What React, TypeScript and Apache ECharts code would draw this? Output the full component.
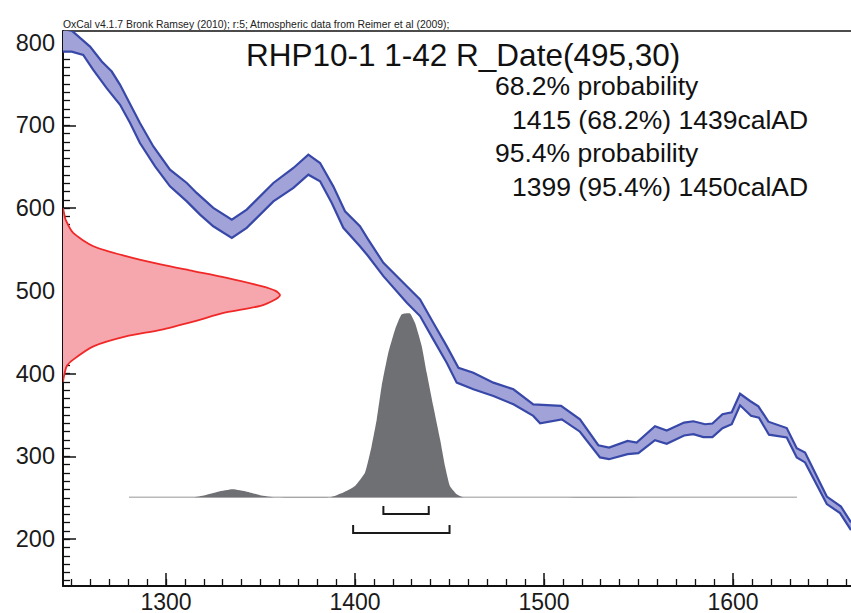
import React, { useEffect, useRef } from 'react';
import * as echarts from 'echarts';

// Calibration curve band (calendar year AD, radiocarbon BP)
const curveUpper: [number, number][] = [
  [1245.5, 816.5], [1250.3, 814.1], [1259.8, 795.2], [1266.0, 777.1], [1271.3, 765.0], [1275.7, 749.0],
  [1286.2, 702.8], [1293.3, 674.5], [1302.1, 646.4], [1311.0, 630.4], [1316.2, 618.4], [1325.0, 600.3],
  [1334.8, 586.1], [1342.7, 598.2], [1356.8, 630.4], [1367.4, 648.5], [1375.3, 664.6], [1381.5, 654.5],
  [1388.5, 626.3], [1394.7, 596.2], [1402.6, 578.1], [1407.0, 562.0], [1415.0, 533.9], [1427.4, 505.7],
  [1434.4, 489.6], [1441.4, 461.5], [1448.5, 433.3], [1454.7, 407.2], [1462.6, 401.2], [1473.2, 389.2],
  [1483.8, 381.1], [1494.3, 363.0], [1509.0, 361.2], [1519.0, 344.9], [1528.7, 313.6], [1534.4, 310.8],
  [1544.2, 318.8], [1549.0, 316.9], [1558.7, 336.5], [1564.9, 331.3], [1574.1, 340.9], [1579.0, 342.5],
  [1585.2, 338.9], [1589.1, 339.8], [1594.4, 351.0], [1599.3, 353.4], [1603.7, 375.7], [1609.0, 367.0],
  [1613.4, 360.6], [1618.7, 342.0], [1628.4, 334.3], [1633.7, 310.0], [1638.1, 304.8], [1649.6, 251.5],
  [1657.1, 239.4], [1662.4, 220.4],
];
const curveLower: [number, number][] = [
  [1245.5, 789.1], [1250.1, 789.1], [1256.2, 785.2], [1261.5, 767.1], [1268.6, 745.0], [1275.7, 724.9],
  [1281.0, 702.8], [1286.2, 678.7], [1294.2, 650.5], [1302.1, 626.3], [1311.0, 608.2], [1318.0, 592.2],
  [1325.0, 578.1], [1334.8, 564.1], [1342.7, 576.2], [1356.8, 608.2], [1367.4, 624.4], [1375.3, 640.4],
  [1381.5, 632.4], [1387.7, 606.3], [1393.8, 576.2], [1402.6, 554.0], [1407.0, 541.9], [1415.0, 517.8],
  [1427.4, 485.7], [1434.4, 469.6], [1441.4, 441.5], [1448.5, 413.3], [1453.8, 389.2], [1462.6, 381.1],
  [1473.2, 373.0], [1483.8, 363.0], [1494.3, 349.0], [1497.9, 340.1], [1509.4, 344.9], [1519.0, 329.9],
  [1529.6, 298.8], [1534.4, 296.7], [1544.2, 302.8], [1549.9, 304.0], [1558.7, 319.6], [1564.9, 315.4],
  [1574.1, 325.3], [1579.0, 326.9], [1584.3, 323.3], [1589.1, 323.3], [1594.4, 334.1], [1599.3, 338.9],
  [1603.7, 361.8], [1609.5, 349.2], [1613.7, 346.8], [1619.0, 326.3], [1628.4, 322.9], [1633.7, 298.8],
  [1638.1, 292.8], [1649.6, 242.5], [1656.6, 231.6], [1662.4, 211.1],
];

// Radiocarbon measurement 495±30 BP: BP value and relative density
const measurementBP = [600, 595, 586, 570, 554, 542, 532, 524, 516, 506, 500, 495, 490, 482, 474, 463, 453, 445, 433, 417, 409, 395, 390];
const measurementDensity = [0, 0.004, 0.012, 0.047, 0.14, 0.29, 0.45, 0.6, 0.75, 0.91, 0.98, 1, 0.98, 0.91, 0.75, 0.6, 0.45, 0.29, 0.14, 0.047, 0.017, 0.003, 0];

// Calibrated probability distribution (calendar year AD, relative probability)
const calibratedYears = [1280.4, 1314.3, 1320.6, 1327.5, 1335.3, 1342.9, 1349.7, 1357.7, 1386.8, 1393.8, 1400.0, 1405.3, 1408.8, 1411.5, 1414.1, 1417.6, 1421.2, 1424.7, 1429.1, 1431.7, 1435.3, 1437.9, 1441.4, 1445.0, 1447.6, 1450.2, 1453.8, 1457.3, 1633.8];
const calibratedProb = [0, 0, 0.011, 0.03, 0.043, 0.03, 0.011, 0, 0, 0.026, 0.061, 0.134, 0.279, 0.424, 0.605, 0.786, 0.913, 0.995, 1, 0.949, 0.822, 0.678, 0.496, 0.315, 0.17, 0.061, 0.016, 0, 0];

// Ranges
const ranges68: [number, number][] = [[1415, 1439]];
const ranges95: [number, number][] = [[1399, 1450]];

// Axis ticks
const xMajorTicks = [1300, 1400, 1500, 1600];
const yMajorTicks = [200, 300, 400, 500, 600, 700, 800];

// Texts
const headerText = 'OxCal v4.1.7 Bronk Ramsey (2010); r:5; Atmospheric data from Reimer et al (2009);';
const titleText = 'RHP10-1 1-42 R_Date(495,30)';
const probHeadings = ['68.2% probability', '95.4% probability'];
const probRanges = ['1415 (68.2%) 1439calAD', '1399 (95.4%) 1450calAD'];

// Layout constants
const X_MIN = 1245.5;
const X_MAX = 1662.4;
const Y_MIN = 143.5;
const Y_MAX = 814;
const RED_SPAN = 114.8; // calendar-year width of the measurement peak
const GRAY_BASE = 250.8; // BP level of the distribution baseline
const GRAY_SPAN = 222; // BP height of the distribution peak
const LEVEL_68 = 230.4;
const LEVEL_95 = 207.5;
const FONT = '"Liberation Sans", Arial, Helvetica, sans-serif';

function minorTicks(a: number, b: number, step: number) {
  const out: number[] = [];
  for (let v = a; v <= b + 1e-9; v += step) out.push(v);
  return out;
}

export default function App() {
  const ref = useRef<HTMLDivElement>(null);
  useEffect(() => {
    if (!ref.current) return;
    const chart = echarts.init(ref.current, undefined, { renderer: 'svg' });

    const baseAxis = {
      type: 'value' as const,
      min: X_MIN,
      max: X_MAX,
      splitLine: { show: false },
    };
    const txt = (text: string, x: number, y: number, size: number, color = '#111') => ({
      type: 'text',
      x,
      y,
      style: { text, fontSize: size, fontFamily: FONT, fill: color, align: 'left', verticalAlign: 'middle', textAlign: 'left', textVerticalAlign: 'middle' },
    });

    const option: any = {
      animation: false,
      backgroundColor: '#ffffff',
      grid: { left: 63, top: 31, right: 0, bottom: 26, containLabel: false },
      xAxis: [
        {
          ...baseAxis,
          position: 'bottom',
          axisLine: { show: true, onZero: false, lineStyle: { color: '#111', width: 2 } },
          axisTick: { show: true, inside: true, length: 13, customValues: xMajorTicks, lineStyle: { color: '#111', width: 1.5 } },
          axisLabel: { show: true, customValues: xMajorTicks, formatter: (v: number) => String(v), fontSize: 23, color: '#1a1a1a', fontFamily: FONT, margin: 4 },
        },
        {
          ...baseAxis,
          position: 'bottom',
          axisLine: { show: false },
          axisTick: { show: true, inside: true, length: 7, customValues: minorTicks(1250, 1660, 10), lineStyle: { color: '#111', width: 1.3 } },
          axisLabel: { show: false },
        },
        {
          ...baseAxis,
          position: 'top',
          axisLine: { show: true, onZero: false, lineStyle: { color: '#111', width: 1.5 } },
          axisTick: { show: false },
          axisLabel: { show: false },
        },
      ],
      yAxis: [
        {
          type: 'value',
          min: Y_MIN,
          max: Y_MAX,
          position: 'left',
          splitLine: { show: false },
          axisLine: { show: true, onZero: false, lineStyle: { color: '#111', width: 2 } },
          axisTick: { show: true, inside: true, length: 13, customValues: yMajorTicks, lineStyle: { color: '#111', width: 1.5 } },
          axisLabel: { show: true, customValues: yMajorTicks, formatter: (v: number) => String(v), fontSize: 23.5, color: '#1a1a1a', fontFamily: FONT, margin: 8 },
        },
        {
          type: 'value',
          min: Y_MIN,
          max: Y_MAX,
          position: 'left',
          splitLine: { show: false },
          axisLine: { show: false },
          axisTick: { show: true, inside: true, length: 7, customValues: minorTicks(150, 810, 10), lineStyle: { color: '#111', width: 1.3 } },
          axisLabel: { show: false },
        },
      ],
      series: [
        {
          // calibration curve band
          type: 'custom',
          clip: true,
          data: [0],
          renderItem: (_p: any, api: any) => {
            const up = curveUpper.map((d) => api.coord(d));
            const lo = curveLower.map((d) => api.coord(d));
            return {
              type: 'group',
              children: [
                { type: 'polygon', shape: { points: [...up, ...lo.slice().reverse()] }, style: { fill: '#a1a3d8', stroke: 'none' } },
                { type: 'polyline', shape: { points: up }, style: { fill: 'none', stroke: '#3848a8', lineWidth: 2.2 } },
                { type: 'polyline', shape: { points: lo }, style: { fill: 'none', stroke: '#3848a8', lineWidth: 2.2 } },
              ],
            };
          },
        },
        {
          // measurement distribution along the y axis
          type: 'custom',
          clip: true,
          data: [0],
          renderItem: (_p: any, api: any) => {
            const pts = measurementBP.map((bp, i) => api.coord([X_MIN + measurementDensity[i] * RED_SPAN, bp]));
            return {
              type: 'group',
              children: [
                { type: 'polygon', shape: { points: pts, smooth: 0.25 }, style: { fill: '#f5a7ad', stroke: 'none' } },
                { type: 'polyline', shape: { points: pts, smooth: 0.25 }, style: { fill: 'none', stroke: '#f02828', lineWidth: 1.8 } },
              ],
            };
          },
        },
        {
          // calibrated distribution
          type: 'custom',
          clip: true,
          data: [0],
          renderItem: (_p: any, api: any) => {
            const pts = calibratedYears.map((yr, i) => api.coord([yr, GRAY_BASE + calibratedProb[i] * GRAY_SPAN]));
            const b0 = api.coord([calibratedYears[0], GRAY_BASE]);
            const b1 = api.coord([calibratedYears[calibratedYears.length - 1], GRAY_BASE]);
            return {
              type: 'group',
              children: [
                { type: 'line', shape: { x1: b0[0], y1: b0[1], x2: b1[0], y2: b1[1] }, style: { stroke: '#b9b9b9', lineWidth: 1.5 } },
                { type: 'polygon', shape: { points: pts, smooth: 0.15 }, style: { fill: '#6f7074', stroke: 'none' } },
              ],
            };
          },
        },
        {
          // range brackets
          type: 'custom',
          clip: false,
          data: [0],
          renderItem: (_p: any, api: any) => {
            const mk = (r: [number, number], level: number) => {
              const a = api.coord([r[0], level]);
              const b = api.coord([r[1], level]);
              return {
                type: 'polyline',
                shape: { points: [[a[0], a[1] - 8], a, b, [b[0], b[1] - 8]] },
                style: { fill: 'none', stroke: '#1a1a1a', lineWidth: 2 },
              };
            };
            return {
              type: 'group',
              children: [...ranges68.map((r) => mk(r, LEVEL_68)), ...ranges95.map((r) => mk(r, LEVEL_95))],
            };
          },
        },
      ],
      graphic: [
        txt(headerText, 63, 24, 10.4, '#222'),
        txt(titleText, 246, 55, 31.5),
        txt(probHeadings[0], 495, 86, 26.5),
        txt(probRanges[0], 512, 119.5, 26.5),
        txt(probHeadings[1], 495, 153, 26.5),
        txt(probRanges[1], 512, 186.5, 26.5),
      ],
    };

    chart.setOption(option);
    return () => chart.dispose();
  }, []);

  return <div ref={ref} style={{ position: 'absolute', left: 0, top: 0, width: 851, height: 613 }} />;
}
